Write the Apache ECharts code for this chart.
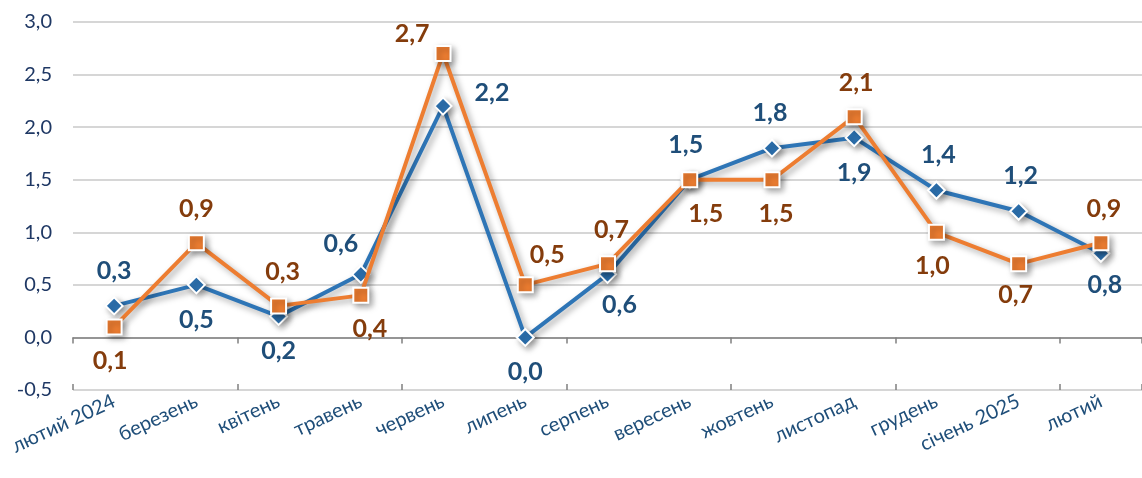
<!DOCTYPE html>
<html><head><meta charset="utf-8">
<script src="https://cdn.jsdelivr.net/npm/echarts@6/dist/echarts.min.js"></script>
<style>html,body{margin:0;padding:0;background:#fff}#c{width:1142px;height:478px}</style>
</head><body><div id="c"></div>
<script>
const categories = ['лютий 2024','березень','квітень','травень','червень','липень','серпень','вересень','жовтень','листопад','грудень','січень 2025','лютий'];
const blueValues = [0.3,0.5,0.2,0.6,2.2,0.0,0.6,1.5,1.8,1.9,1.4,1.2,0.8];
const orangeValues = [0.1,0.9,0.3,0.4,2.7,0.5,0.7,1.5,1.5,2.1,1.0,0.7,0.9];
// label placement per point: [position, dx, dy]
const blueLabelPlace = [['top',0,0],['bottom',0,0],['bottom',0,0],['top',-20,5],['right',9,-13],['bottom',0,0],['bottom',12,-4],['top',-4,0],['top',-2,0],['bottom',0,0],['top',2,0],['top',2,0],['bottom',4,-3]];
const orangeLabelPlace = [['bottom',-4,0],['top',0,0],['top',4,0],['bottom',9,0],['left',8,-20],['top',22,4],['top',4,0],['bottom',16,0],['bottom',4,0],['top',2,0],['bottom',-4,0],['bottom',-3,-3],['top',3,0]];

const FONT = 'Lato, "Open Sans", sans-serif';
const fmt = v => Number(v).toFixed(1).replace('.', ',');

function buildData(values, places, color) {
  return values.map((v, i) => ({
    value: v,
    label: {
      show: true, position: places[i][0], offset: [places[i][1], places[i][2]],
      distance: 13, color: color, fontSize: 25, fontWeight: 'bold', fontFamily: FONT,
      formatter: p => fmt(p.value)
    }
  }));
}

const chart = echarts.init(document.getElementById('c'), null, {renderer: 'canvas'});
chart.setOption({
  animation: false,
  grid: {left: 73, right: 0, top: 22, bottom: 88},
  xAxis: [
    {type: 'category', data: categories, boundaryGap: true, position: 'bottom',
     axisLine: {show: false, onZero: false}, axisTick: {show: false},
     axisLabel: {rotate: 25, margin: 10, color: '#1F4E79', fontSize: 20, fontFamily: FONT, interval: 0}},
    {type: 'category', data: categories, boundaryGap: true, position: 'bottom',
     axisLine: {show: true, onZero: true, lineStyle: {color: '#808080', width: 1.5}},
     axisTick: {show: true, length: 6, alignWithLabel: false, lineStyle: {color: '#808080', width: 1.5}},
     axisLabel: {show: false}},
    {type: 'category', data: categories, boundaryGap: true, position: 'bottom',
     axisLine: {show: false, onZero: true},
     axisTick: {show: true, inside: true, length: 6, lineStyle: {color: '#808080', width: 1.5}},
     axisLabel: {show: false}}
  ],
  yAxis: {
    type: 'value', min: -0.5, max: 3.0, interval: 0.5,
    axisLine: {show: false}, axisTick: {show: false},
    splitLine: {lineStyle: {color: '#C8C8C8', width: 1.5}},
    axisLabel: {color: '#1F3864', fontSize: 20, fontFamily: FONT, margin: 21, formatter: v => fmt(v)}
  },
  series: [
    {type: 'line', name: 'blue', xAxisIndex: 0, data: buildData(blueValues, blueLabelPlace, '#1F4E79'),
     symbol: 'diamond', symbolSize: 17,
     lineStyle: {color: '#2E75B6', width: 4, shadowColor: 'rgba(0,0,0,0.35)', shadowBlur: 6, shadowOffsetX: 3, shadowOffsetY: 3},
     itemStyle: {color: '#2E75B6', borderColor: '#fff', borderWidth: 2, shadowColor: 'rgba(0,0,0,0.35)', shadowBlur: 6, shadowOffsetX: 3, shadowOffsetY: 3},
     z: 3},
    {type: 'line', name: 'orange', xAxisIndex: 0, data: buildData(orangeValues, orangeLabelPlace, '#843C0C'),
     symbol: 'rect', symbolSize: 15,
     lineStyle: {color: '#ED7D31', width: 4, shadowColor: 'rgba(0,0,0,0.35)', shadowBlur: 6, shadowOffsetX: 3, shadowOffsetY: 3},
     itemStyle: {color: '#ED7D31', borderColor: '#fff', borderWidth: 2, shadowColor: 'rgba(0,0,0,0.35)', shadowBlur: 6, shadowOffsetX: 3, shadowOffsetY: 3},
     z: 4}
  ]
});
</script></body></html>
